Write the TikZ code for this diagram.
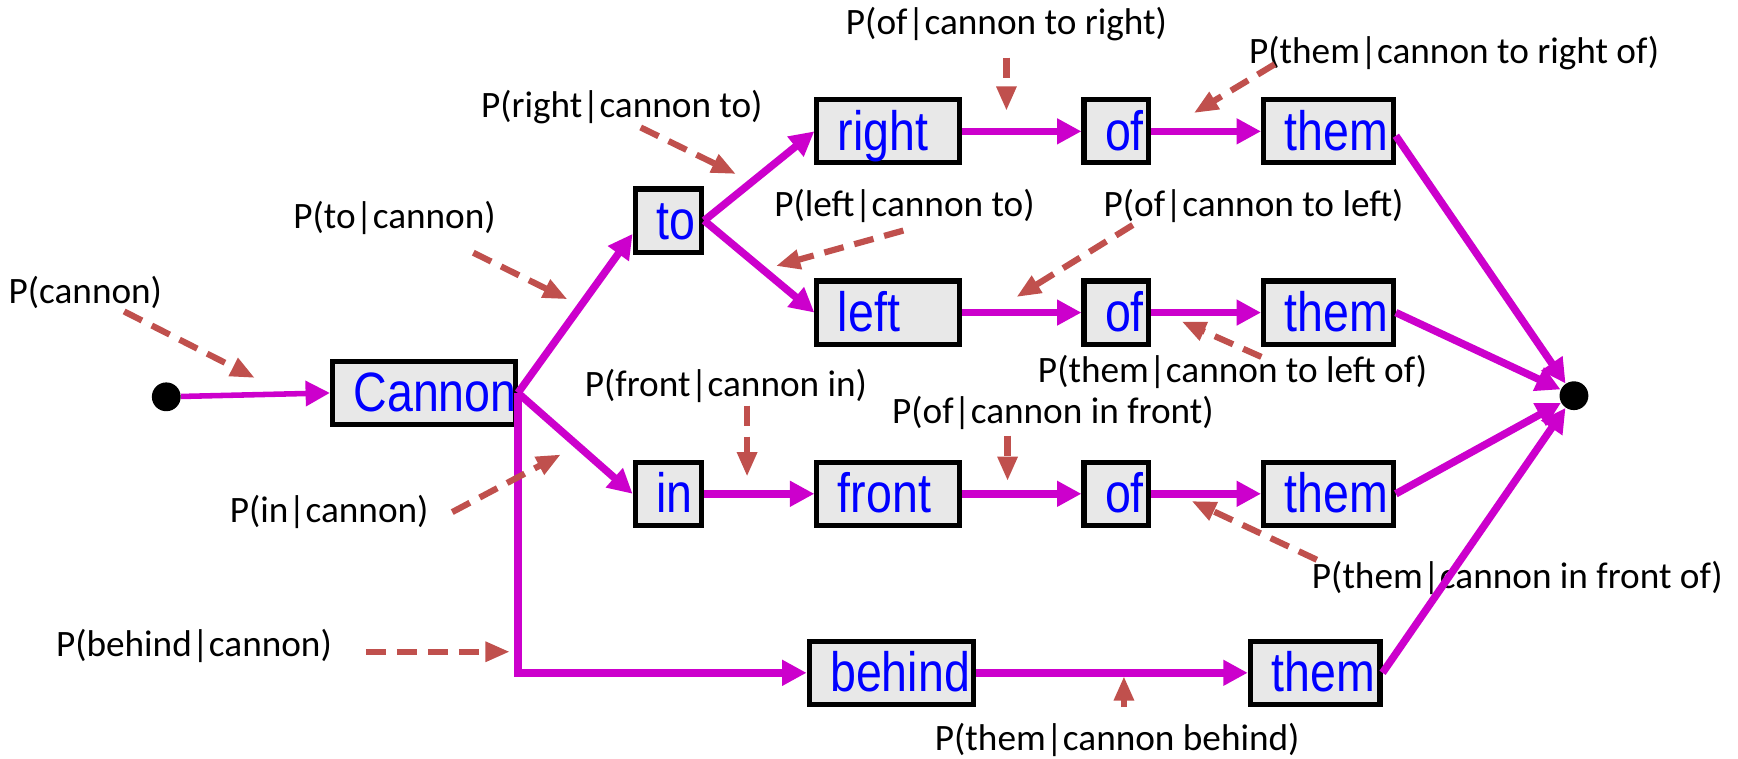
\documentclass[tikz,border=0pt]{standalone}
\usepackage{fontspec}
\setmainfont{Carlito}
\newfontfamily\wordfont[FakeStretch=0.84]{Liberation Sans}
\usetikzlibrary{arrows.meta}
\definecolor{mag}{HTML}{CC00CC}
\definecolor{brick}{HTML}{C0504D}
\definecolor{boxfill}{HTML}{E8E8E8}
\definecolor{wordblue}{HTML}{0000FF}
\begin{document}
\begin{tikzpicture}[x=0.5pt,y=-0.5pt,
  word/.style={draw=black, line width=2.3pt, fill=boxfill, minimum height=28.5pt,
    inner xsep=9.5pt, inner ysep=0pt, text width=#1, align=left,
    text height=20pt, text depth=3pt,
    font=\wordfont\fontsize{25}{25}\selectfont, text=wordblue},
  prob/.style={inner sep=0pt, font=\fontsize{16.8}{18}\selectfont, text=black},
  dotnode/.style={circle, fill=black, inner sep=0pt, minimum size=13pt},
  flow/.style={draw=mag, line width=3.4pt, -{Triangle[length=11pt,width=11pt]}},
  hint/.style={draw=brick, line width=2.8pt, dash pattern=on 9pt off 5pt,
    -{Triangle[length=11pt,width=8.5pt]}}
]
\useasboundingbox (0,0) rectangle (1568,684);

% start / end dots
\node[dotnode] (start) at (150,358) {};
\node[dotnode] (end) at (1420,357) {};

% word boxes
\node[word=63.5pt] (cannon) at (382.5,354.5) {Cannon};
\node[word=11pt] (to) at (603,199) {to};
\node[word=45.5pt] (right) at (801.5,118.5) {right};
\node[word=10pt] (of1) at (1007,118.5) {of};
\node[word=39.5pt] (them1) at (1198.5,118.5) {them};
\node[word=45.5pt] (left) at (801.5,282) {left};
\node[word=10pt] (of2) at (1007,282) {of};
\node[word=39.5pt] (them2) at (1198.5,282) {them};
\node[word=11pt] (in) at (603,445.5) {in};
\node[word=45.5pt] (front) at (801.5,445.5) {front};
\node[word=10pt] (of3) at (1007,445.5) {of};
\node[word=39.5pt] (them3) at (1198.5,445.5) {them};
\node[word=55pt] (behind) at (804,607) {behind};
\node[word=39.5pt] (them4) at (1186.5,607) {them};

% probability labels
\node[prob] (l1) at (77,264) {P(cannon)};
\node[prob] (l2) at (356,197) {P(to|cannon)};
\node[prob] (l3) at (561,97) {P(right|cannon to)};
\node[prob] (l4) at (908,22) {P(of|cannon to right)};
\node[prob] (l5) at (1312,48) {P(them|cannon to right of)};
\node[prob] (l6) at (816,186) {P(left|cannon to)};
\node[prob] (l7) at (1131,186) {P(of|cannon to left)};
\node[prob] (l8) at (1112,336) {P(them|cannon to left of)};
\node[prob] (l9) at (655,348) {P(front|cannon in)};
\node[prob] (l10) at (950,373) {P(of|cannon in front)};
\node[prob] (l11) at (297,462) {P(in|cannon)};
\node[prob] (l12) at (1369,521) {P(them|cannon in front of)};
\node[prob] (l13) at (175,583) {P(behind|cannon)};
\node[prob] (l14) at (1008,668) {P(them|cannon behind)};

% magenta flow
\draw[flow, line width=2.5pt] (start) -- (cannon.west);
\draw[flow] (cannon.east) -- ([yshift=-6pt]to.west);
\draw[flow] (cannon.east) -- (in.west);
\draw[flow] (cannon.east) |- (behind.west);
\draw[flow] (to.east) -- (right.west);
\draw[flow] (to.east) -- (left.west);
\draw[flow] (right) -- (of1);
\draw[flow] (of1) -- (them1);
\draw[flow] (left) -- (of2);
\draw[flow] (of2) -- (them2);
\draw[flow] (in) -- (front);
\draw[flow] (front) -- (of3);
\draw[flow] (of3) -- (them3);
\draw[flow] (behind) -- (them4);
\draw[flow] ([yshift=-2pt]them1.east) -- (end);
\draw[flow] (them2.east) -- (end);
\draw[flow] (them3.east) -- (end);
\draw[flow] (them4.east) -- (end);

% dashed hint arrows
\coordinate (h1a) at (112,281);  \coordinate (h1b) at (230,341);
\coordinate (h2a) at (427,228);  \coordinate (h2b) at (512,270);
\coordinate (h3a) at (578,115);  \coordinate (h3b) at (664,157);
\coordinate (h4a) at (908,52);   \coordinate (h4b) at (908,100);
\coordinate (h5a) at (1150,58);  \coordinate (h5b) at (1077,102);
\coordinate (h6a) at (815,208);  \coordinate (h6b) at (700,240);
\coordinate (h7a) at (1022,203); \coordinate (h7b) at (917,268);
\coordinate (h8a) at (1138,322); \coordinate (h8b) at (1066,290);
\coordinate (h9a) at (674,366);  \coordinate (h9b) at (674,430);
\coordinate (h10a) at (909,393); \coordinate (h10b) at (909,434);
\coordinate (h11a) at (1188,505); \coordinate (h11b) at (1075,452);
\coordinate (h12a) at (408,462); \coordinate (h12b) at (506,410);
\coordinate (h13a) at (330,588); \coordinate (h13b) at (460,588);
\coordinate (h14a) at (1014,638); \coordinate (h14b) at (1014,610);
\foreach \i in {1,...,14} {\draw[hint] (h\i a) -- (h\i b);}
\end{tikzpicture}
\end{document}
